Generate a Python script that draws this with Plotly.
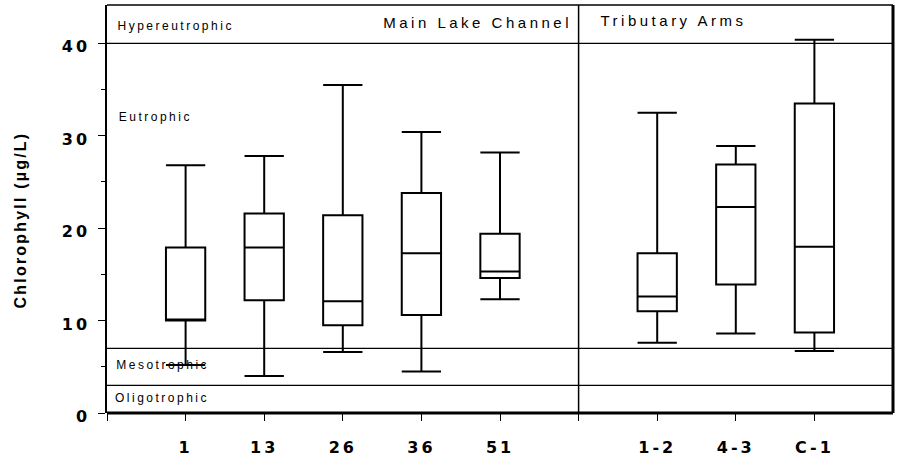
import plotly.graph_objects as go

# ---- data ----
stations = ["1", "13", "26", "36", "51", "1-2", "4-3", "C-1"]
positions = [1, 2, 3, 4, 5, 7, 8, 9]
whisker_low = [5.2, 4.0, 6.6, 4.5, 12.3, 7.6, 8.6, 6.7]
q1 = [10.0, 12.2, 9.5, 10.6, 14.6, 11.0, 13.9, 8.7]
median = [10.0, 17.9, 12.1, 17.3, 15.3, 12.6, 22.3, 18.0]
q3 = [17.9, 21.6, 21.4, 23.8, 19.4, 17.3, 26.9, 33.5]
whisker_high = [26.8, 27.8, 35.5, 30.4, 28.2, 32.5, 28.9, 40.4]

trophic_bounds = [40, 7, 3]
trophic_labels = ["Hypereutrophic", "Eutrophic", "Mesotrophic", "Oligotrophic"]
trophic_label_x = [0.871, 0.613, 0.708, 0.700]
trophic_label_y = [41.9, 32.05, 5.15, 1.6]
group_labels = ["Main Lake Channel", "Tributary Arms"]
group_label_x = [4.72, 7.206]
group_label_y = [42.3, 42.5]
divider_x = 6
y_title = "Chlorophyll (µg/L)"

y_ticks = [0, 10, 20, 30, 40]
x_tick_vals = [0, 1, 2, 3, 4, 5, 6, 7, 8, 9]
x_tick_text = ["", "1", "13", "26", "36", "51", "", "1-2", "4-3", "C-1"]

FONT = "Liberation Sans, Arial, sans-serif"
TICKFONT = "DejaVu Sans, Liberation Sans, sans-serif"

fig = go.Figure()
fig.add_trace(go.Box(
    x=positions,
    q1=q1, median=median, q3=q3,
    lowerfence=whisker_low, upperfence=whisker_high,
    width=0.5, whiskerwidth=1,
    line=dict(color="black", width=2),
    fillcolor="rgba(0,0,0,0)",
    boxpoints=False,
    hoverinfo="skip",
    showlegend=False,
))

shapes = []
for yb in trophic_bounds:
    shapes.append(dict(type="line", xref="paper", x0=0, x1=1, yref="y", y0=yb, y1=yb,
                       line=dict(color="black", width=1.2), layer="above"))
shapes.append(dict(type="line", xref="x", x0=divider_x, x1=divider_x, yref="paper", y0=0, y1=1,
                   line=dict(color="black", width=1.5), layer="above"))
# frame
shapes.append(dict(type="line", xref="paper", x0=0, x1=1, yref="paper", y0=1, y1=1,
                   line=dict(color="black", width=1.5)))
shapes.append(dict(type="line", xref="paper", x0=1, x1=1, yref="paper", y0=0, y1=1,
                   line=dict(color="black", width=3)))
shapes.append(dict(type="line", xref="paper", x0=0, x1=1, yref="paper", y0=0, y1=0,
                   line=dict(color="black", width=3)))

annotations = []
for txt, xx, yy in zip(trophic_labels, trophic_label_x, trophic_label_y):
    annotations.append(dict(text=txt, x=xx, y=yy, xref="x", yref="y", xanchor="center",
                            yanchor="middle", showarrow=False,
                            font=dict(family=FONT, size=12, color="black")))
for txt, xx, yy in zip(group_labels, group_label_x, group_label_y):
    annotations.append(dict(text=txt, x=xx, y=yy, xref="x", yref="y",
                            xanchor="center", yanchor="middle", showarrow=False,
                            font=dict(family=FONT, size=15, color="black")))
# y-axis title as rotated annotation (index 6)
annotations.append(dict(text=y_title, textangle=-90, xref="paper", yref="paper",
                        x=0, y=0.4714, xshift=-86, xanchor="center", yanchor="middle",
                        showarrow=False,
                        font=dict(family=FONT, size=16, color="black", weight="bold")))

fig.update_layout(
    width=897, height=461,
    margin=dict(l=107, r=4, t=5, b=48),
    paper_bgcolor="white", plot_bgcolor="white",
    shapes=shapes, annotations=annotations,
    font=dict(family=FONT, color="black"),
    xaxis=dict(range=[0, 10], tickvals=x_tick_vals, ticktext=x_tick_text,
               ticks="outside", ticklen=7, tickwidth=1, tickcolor="black",
               showgrid=False, zeroline=False, showline=False,
               ticklabelstandoff=13,
               tickfont=dict(family=TICKFONT, size=16, color="black", weight="bold")),
    yaxis=dict(range=[0, 44.15], tickvals=y_ticks,
               ticks="outside", ticklen=7, tickwidth=1, tickcolor="black",
               minor=dict(dtick=5, ticks="outside", ticklen=4, tickcolor="black", tickwidth=1),
               showgrid=False, zeroline=False, showline=True, linecolor="black", linewidth=1.5,
               ticklabelstandoff=5,
               tickfont=dict(family=TICKFONT, size=16, color="black", weight="bold")),
)

css = (
    "body{margin:0;padding:0}"
    ".xtick text,.ytick text{letter-spacing:3px}"
    ".annotation-text{letter-spacing:2.5px}"
    ".annotation[data-index='4'] .annotation-text,"
    ".annotation[data-index='5'] .annotation-text{letter-spacing:3.5px}"
    ".annotation[data-index='6'] .annotation-text{letter-spacing:2.2px}"
)
post = ("var s=document.createElement('style');s.textContent=\"" + css + "\";"
        "document.head.appendChild(s);"
        "document.querySelectorAll('.ytick text').forEach(function(t){"
        "t.setAttribute('transform',(t.getAttribute('transform')||'')+' translate(0,3.5)');});")

fig.write_html("out.html", post_script=post, config={"displayModeBar": False})
